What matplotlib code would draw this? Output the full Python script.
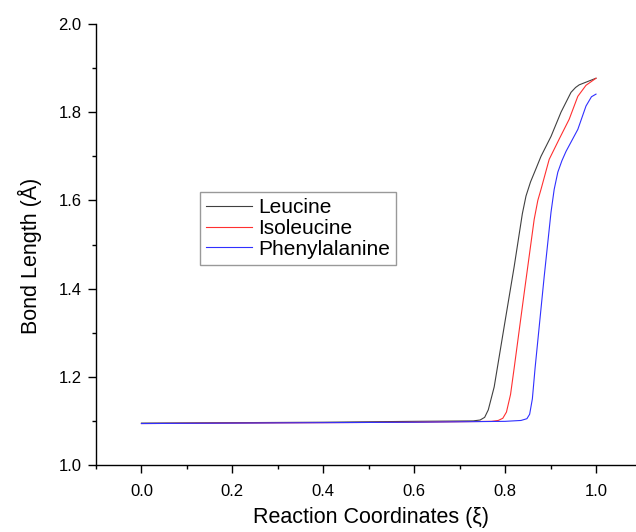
import numpy as np
import matplotlib.pyplot as plt
from matplotlib.ticker import MultipleLocator

# Curvas (coordenada de reaccion vs longitud de enlace)
xi_leu = [0.0, 0.2, 0.4, 0.6, 0.73, 0.745, 0.755, 0.763, 0.776, 0.798, 0.82, 0.838, 0.846, 0.856, 0.868, 0.879,
          0.901, 0.923, 0.945, 0.955, 0.963, 1.0]
bl_leu = [1.095, 1.096, 1.097, 1.099, 1.100, 1.102, 1.108, 1.125, 1.177, 1.314, 1.45, 1.57, 1.61, 1.642, 1.672, 1.70,
          1.745, 1.80, 1.845, 1.856, 1.862, 1.877]

xi_ile = [0.0, 0.2, 0.4, 0.6, 0.77, 0.785, 0.795, 0.803, 0.812, 0.82, 0.842, 0.864, 0.872, 0.879, 0.897, 0.919,
          0.941, 0.96, 0.978, 1.0]
bl_ile = [1.094, 1.095, 1.096, 1.097, 1.099, 1.101, 1.106, 1.12, 1.16, 1.22, 1.39, 1.557, 1.60, 1.625, 1.693, 1.739,
          1.784, 1.836, 1.861, 1.877]

xi_phe = [0.0, 0.2, 0.4, 0.6, 0.8, 0.835, 0.848, 0.854, 0.86, 0.866, 0.886, 0.901, 0.908, 0.916, 0.925, 0.934,
          0.96, 0.978, 0.99, 1.0]
bl_phe = [1.094, 1.095, 1.096, 1.097, 1.099, 1.101, 1.105, 1.115, 1.15, 1.22, 1.427, 1.573, 1.625, 1.664, 1.69,
          1.711, 1.761, 1.814, 1.835, 1.841]

plt.rcParams['font.family'] = ['Liberation Sans', 'DejaVu Sans']

fig = plt.figure(figsize=(6.36, 5.32), dpi=100)
ax = fig.add_axes([96 / 636, 67 / 532, 540 / 636, 441 / 532])

ax.plot(xi_leu, bl_leu, color='#404040', lw=0.8, label='Leucine')
ax.plot(xi_ile, bl_ile, color='#ff3030', lw=0.8, label='Isoleucine')
ax.plot(xi_phe, bl_phe, color='#3030ff', lw=0.8, label='Phenylalanine')

ax.set_xlim(-0.1, 1.088)
ax.set_ylim(1.0, 2.0)
ax.xaxis.set_major_locator(MultipleLocator(0.2))
ax.xaxis.set_minor_locator(MultipleLocator(0.1))
ax.yaxis.set_major_locator(MultipleLocator(0.2))
ax.yaxis.set_minor_locator(MultipleLocator(0.1))
ax.set_xticks([0.0, 0.2, 0.4, 0.6, 0.8, 1.0])
ax.set_xticklabels(['0.0', '0.2', '0.4', '0.6', '0.8', '1.0'])

for s in ['top', 'right']:
    ax.spines[s].set_visible(False)
for s in ['left', 'bottom']:
    ax.spines[s].set_linewidth(1.0)

ax.tick_params(which='major', direction='out', length=5.5, width=1, labelsize=12, pad=5)
ax.tick_params(axis='x', which='major', pad=8)
ax.tick_params(which='minor', direction='out', length=3, width=1)

ax.set_xlabel('Reaction Coordinates (ξ)', fontsize=15.5)
ax.set_ylabel('Bond Length (Å)', fontsize=15.5)
ax.xaxis.set_label_coords(0.51, -0.095)
ax.yaxis.set_label_coords(-0.1, 0.474)

leg = ax.legend(loc='upper left', bbox_to_anchor=(104 / 540, 1 - 168 / 441), fontsize=15,
                frameon=True, fancybox=False, edgecolor='#808080', handlelength=2.2,
                borderpad=0.3, labelspacing=0.08, handletextpad=0.3, borderaxespad=0)
leg.get_frame().set_linewidth(1.0)

fig.savefig('out.png', dpi=100)
